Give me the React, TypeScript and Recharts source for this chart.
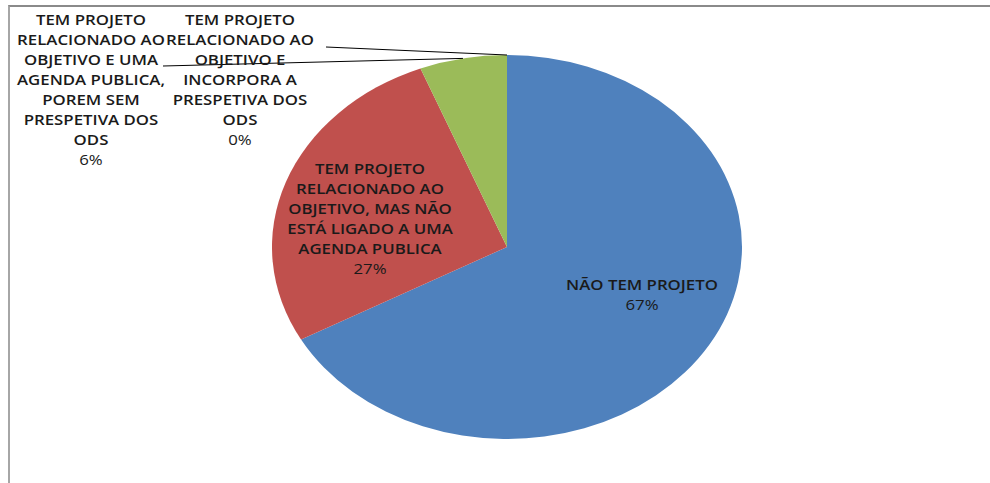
import { PieChart, Pie, Cell } from 'recharts';

const categories = [
  'NÃO TEM PROJETO',
  'TEM PROJETO RELACIONADO AO OBJETIVO, MAS NÃO ESTÁ LIGADO A UMA AGENDA PUBLICA',
  'TEM PROJETO RELACIONADO AO OBJETIVO E UMA AGENDA PUBLICA, POREM SEM PRESPETIVA DOS ODS',
  'TEM PROJETO RELACIONADO AO OBJETIVO E INCORPORA A PRESPETIVA DOS ODS',
];

// how Excel wrapped each category name
const wrappedNames = [
  ['NÃO TEM PROJETO'],
  ['TEM PROJETO', 'RELACIONADO AO', 'OBJETIVO, MAS NÃO', 'ESTÁ LIGADO A UMA', 'AGENDA PUBLICA'],
  ['TEM PROJETO', 'RELACIONADO AO', 'OBJETIVO E UMA', 'AGENDA PUBLICA,', 'POREM SEM', 'PRESPETIVA DOS', 'ODS'],
  ['TEM PROJETO', 'RELACIONADO AO', 'OBJETIVO E', 'INCORPORA A', 'PRESPETIVA DOS', 'ODS'],
];

const percentages = [67, 27, 6, 0];

const colors = ['#4F81BD', '#C0504D', '#9BBB59', '#8064A2'];

const data = categories.map((name, i) => ({ name, value: percentages[i], lines: wrappedNames[i] }));

// label placement (screen px): centre x, first line y, optional leader start
const labelLayout = [
  { x: 642, y: 285 },
  { x: 370, y: 169 },
  { x: 91, y: 20, lx: 163, ly: 66 },
  { x: 240, y: 20, lx: 326, ly: 47 },
];

const CX = 507;
const CY = 247;
const RX = 235;
const RY = 192;
const S = RY / RX;
const RAD = Math.PI / 180;
const LINE_H = 20;
const STRETCH = 1.2;
const W = 990;
const H = 483;

const renderLabel = (props: any) => {
  const { cx, cy, midAngle, outerRadius, index } = props;
  const pos = labelLayout[index];
  const d = data[index];
  // back to screen coordinates (undo the vertical squash of the pie)
  const screen = `scale(1, ${1 / S})`;
  const tx = cx + outerRadius * Math.cos(-midAngle * RAD);
  const ty = (cy + outerRadius * Math.sin(-midAngle * RAD)) * S;
  return (
    <g transform={screen} key={`lbl-${index}`}>
      {pos.lx !== undefined && (
        <line x1={pos.lx} y1={pos.ly} x2={tx} y2={ty} stroke="#000" strokeWidth={1} />
      )}
      <g transform={`translate(${pos.x}, 0) scale(${STRETCH}, 1)`}>
        <text
          x={0}
          y={pos.y}
          textAnchor="middle"
          dominantBaseline="central"
          fontFamily="'Open Sans', sans-serif"
          fontSize={14}
          fill="#1a1a1a"
        >
          {d.lines.map((ln: string, i: number) => (
            <tspan key={i} x={0} y={pos.y + i * LINE_H} fontWeight={600}>
              {ln}
            </tspan>
          ))}
          <tspan x={0} y={pos.y + d.lines.length * LINE_H} fontWeight={400}>
            {`${d.value}%`}
          </tspan>
        </text>
      </g>
    </g>
  );
};

export default function App() {
  return (
    <div style={{ position: 'fixed', left: 0, top: 0, width: W, height: H, background: '#fff', overflow: 'hidden' }}>
      <div
        style={{
          position: 'absolute',
          left: 8,
          top: 5,
          right: 0,
          bottom: 0,
          borderTop: '2px solid #8a8a8a',
          borderLeft: '2px solid #a6a6a6',
        }}
      />
      <div
        style={{
          position: 'absolute',
          left: 0,
          top: 0,
          width: W,
          height: H / S,
          transform: `scaleY(${S})`,
          transformOrigin: '0 0',
        }}
      >
        <PieChart width={W} height={H / S} margin={{ top: 0, right: 0, bottom: 0, left: 0 }}>
          <Pie
            data={data}
            dataKey="value"
            nameKey="name"
            cx={CX}
            cy={CY / S}
            outerRadius={RX}
            startAngle={90}
            endAngle={-270}
            stroke="none"
            label={renderLabel}
            labelLine={false}
            isAnimationActive={false}
          >
            {data.map((_, i) => (
              <Cell key={i} fill={colors[i]} />
            ))}
          </Pie>
        </PieChart>
      </div>
    </div>
  );
}
